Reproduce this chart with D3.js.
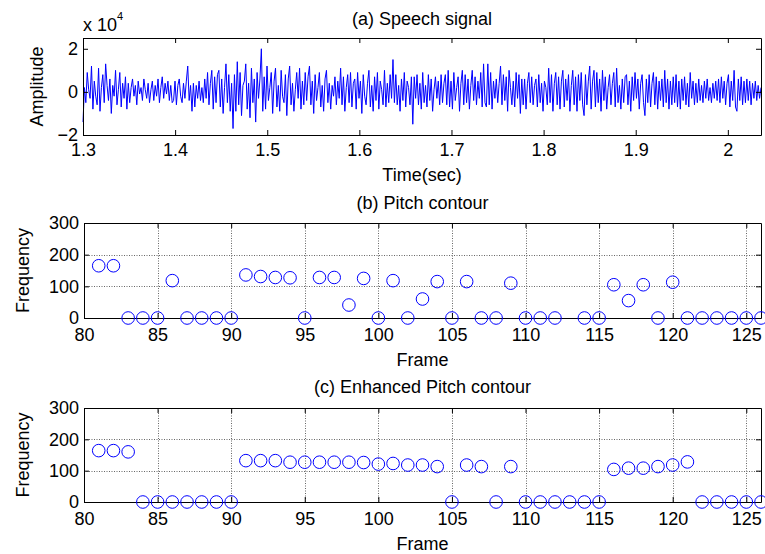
<!DOCTYPE html>
<html>
<head>
<meta charset="utf-8">
<script src="https://cdn.jsdelivr.net/npm/d3@7"></script>
<style>
body { margin: 0; background: #fff; }
svg { display: block; font-family: "Liberation Sans", Arial, sans-serif; }
</style>
</head>
<body>
<svg width="765" height="554"></svg>
<script>
// speech amplitude, in units of 10^4
const speechAmp = [
  -1.4, 0.2, -0.5, 0.9, 0.1, -0.3, 1.2, -0.8, 0.5, -0.2, -0.6, 1.1, -0.9, 0.2, 0.8, -0.5, 1.3, 0.3, -0.4, 0.6, -1.0, 0.3, -0.2, 1.0, -0.6, 0.1, 0.9, -0.7, 0.4, -0.3, 0.7, -0.8,
  0.4, -0.5, 0.2, 0.6, -0.2, 0.3, -0.6, 0.5, -0.1, 0.2, -0.4, 0.6, 0.1, -0.3, 0.4, -0.5, 0.1, 0.5, -0.4, 0.3, -0.2, 0.6, -0.5, 0.2, 0.7, -0.3, 0.4, -0.1, 0.5, -0.4, 0.3, -0.5,
  -0.4, 0.5, -0.6, 0.3, 0.6, -0.2, -0.5, 0.4, -0.3, 0.5, 1.2, -0.4, 0.3, -0.9, 0.4, -0.7, 0.3, -0.3, 0.5, -0.4, 0.2, -0.5, 0.6, -0.3, 0.9, -0.6, 0.4, 1.0, -0.8, 0.7, -0.5, 0.8,
  1.0, -0.7, 0.6, -1.0, 0.2, 1.3, -0.5, 0.8, -0.9, 0.4, -1.7, 0.8, -0.9, 1.4, -0.6, 0.9, -1.1, 0.3, 0.5, 1.3, -0.8, 0.4, -1.2, 1.1, -0.5, 0.6, -1.4, 0.9, -0.3, 0.6, 2.0, -0.9,
  0.7, -0.8, 1.2, -0.4, 0.2, 0.9, -1.0, 0.5, 1.1, -0.7, 0.3, -0.9, 1.0, -0.2, -0.5, 0.8, -1.1, 0.6, 1.2, -0.6, 0.4, -0.9, 0.1, 0.9, -0.3, 1.1, -0.8, 0.5, -0.6, 0.9, -0.4, 0.7,
  1.2, -0.6, 0.5, -1.0, 0.8, -0.4, 0.2, 0.9, -0.7, 0.3, -0.9, 0.6, 1.0, -0.5, 0.4, -0.8, 0.3, -0.2, 0.7, -0.6, 0.5, -0.3, 1.1, -0.6, 0.7, -0.9, 0.2, 0.8, -0.5, 0.9, -0.7, 0.4,
  0.6, -0.8, 0.9, -0.3, 0.5, -1.0, 0.8, -0.2, -0.6, 0.4, 1.0, -0.7, 0.3, -0.9, 0.7, -0.4, 0.9, -0.8, 0.5, 0.1, -0.6, 1.0, -0.7, 0.4, -0.5, 0.8, -0.3, 1.5, -0.5, 0.8, -0.6, 0.3,
  -0.9, 0.6, -0.4, 0.9, -0.7, 0.5, 0.2, -0.6, 0.7, -1.5, 0.7, -0.3, 0.8, -0.6, 0.4, -0.8, 0.9, -0.5, 0.3, -0.7, 0.8, -0.4, 0.6, -0.9, 0.1, 0.7, -0.3, 0.5, -0.6, 0.8, -0.5, 0.4,
  0.8, -0.6, 1.0, -0.7, 0.5, -0.8, 0.9, -0.4, 0.2, 0.7, -0.9, 0.4, 1.0, -0.6, 0.8, -0.5, 0.6, -0.8, 0.3, 1.0, -0.4, 0.7, -0.6, 0.5, -0.3, 0.9, -0.7, 1.3, -0.5, -0.7, 1.3, -0.6,
  0.9, -0.8, 0.5, -0.3, 0.6, -0.5, 0.4, 1.2, -0.6, 0.8, -0.4, 0.7, -0.9, 1.0, 0.2, -0.6, 0.5, -0.7, 0.9, -0.3, 0.8, -1.0, 0.6, -0.6, 0.6, -0.8, 0.4, 0.9, -0.5, 0.7, -0.6, 0.3,
  0.6, -0.7, 0.8, -0.5, 0.4, -0.9, 0.5, 0.2, -0.6, 1.1, -0.5, 0.8, -0.9, 0.4, 0.9, -0.6, 0.7, -0.8, 0.5, 1.0, -0.7, 0.6, -0.4, 0.8, -0.9, 0.3, 1.0, -0.6, 0.7, -0.9, 0.8, -0.4,
  0.9, -0.6, -1.1, 0.8, -0.6, 0.5, 1.2, -0.8, 0.5, 1.0, -0.7, 0.9, -0.5, 0.6, -0.9, 1.0, -0.4, 0.7, -0.8, 0.2, 0.8, -0.6, 0.4, 0.9, -0.7, 1.1, -0.5, 0.3, -0.8, 0.6, -0.5, 0.7,
  0.8, -0.6, 0.5, -0.9, 0.7, -0.4, 0.9, -0.3, 0.6, -0.8, 0.4, 0.8, -0.5, -1.1, 0.6, -0.5, 0.8, -0.7, 0.4, 0.9, -0.6, 0.7, -0.8, 0.5, -0.4, 0.6, -0.7, 1.0, -0.5, 0.6, -0.8, 0.5,
  -0.6, 0.7, -0.5, 0.8, -0.7, 0.5, -0.8, 0.6, -0.4, 0.7, -0.6, 0.4, -0.7, 0.9, -0.3, 0.5, -0.6, 0.4, -0.5, 0.6, -0.4, 0.3, -0.5, 0.5, -0.3, 0.6, -0.4, 0.2, -0.5, 0.4, -0.3, 0.5,
  -0.4, 0.6, -0.5, 0.7, -0.3, 0.5, -0.6, 0.4, 0.8, -0.7, 0.5, -0.4, 1.0, -0.7, -0.9, 0.6, -0.4, 0.7, -0.6, 0.5, -0.5, 0.6, -0.4, 0.5, -0.6, 0.4, -0.3, 0.5, -0.4, 0.3, -0.3, 0.2
];
const speechTimeRange = [1.3, 2.036];
const timeTicks = [1.3, 1.4, 1.5, 1.6, 1.7, 1.8, 1.9, 2.0];
const ampTicks = [-2, 0, 2];

const frames = [81, 82, 83, 84, 85, 86, 87, 88, 89, 90, 91, 92, 93, 94, 95, 96, 97, 98, 99, 100,
  101, 102, 103, 104, 105, 106, 107, 108, 109, 110, 111, 112, 113, 114, 115, 116, 117, 118, 119, 120,
  121, 122, 123, 124, 125, 126];
// null = no point drawn
const pitchContour = [165, 165, 0, 0, 0, 118, 0, 0, 0, 0, 136, 131, 128, 127, 0, 128, 128, 41, 125, 0,
  118, 0, 60, 115, 0, 115, 0, 0, 110, 0, 0, 0, null, 0, 0, 105, 55, 105, 0, 113,
  0, 0, 0, 0, 0, 0];
const enhancedPitch = [164, 164, 160, 0, 0, 0, 0, 0, 0, 0, 132, 132, 132, 127, 127, 127, 127, 127, 126, 121,
  123, 118, 118, 113, 0, 118, 113, 0, 113, 0, 0, 0, 0, 0, 0, 104, 108, 108, 113, 118,
  128, 0, 0, 0, 0, 0];
const frameTicks = [80, 85, 90, 95, 100, 105, 110, 115, 120, 125];
const freqTicks = [0, 100, 200, 300];

const svg = d3.select('svg');
const blue = '#0000ff';
const fontSize = 18;

function frameAxes(x, y, xTicks, yTicks, opts) {
    const g = svg.append('g');
    const [x0, x1] = x.range();
    const [y1, y0] = y.range();

    if (opts.grid) {
        g.append('g').selectAll('line').data(xTicks.filter(t => t > x.domain()[0]))
            .enter().append('line')
            .attr('x1', t => Math.round(x(t)) + 0.5).attr('x2', t => Math.round(x(t)) + 0.5)
            .attr('y1', y0).attr('y2', y1)
            .attr('stroke', '#666').attr('stroke-dasharray', '1,1.5');
        g.append('g').selectAll('line').data(yTicks.filter(t => t > y.domain()[0] && t < y.domain()[1]))
            .enter().append('line')
            .attr('x1', x0).attr('x2', x1)
            .attr('y1', t => Math.round(y(t)) + 0.5).attr('y2', t => Math.round(y(t)) + 0.5)
            .attr('stroke', '#666').attr('stroke-dasharray', '1,1.5');
    }

    const style = a => a.selectAll('text').attr('font-size', fontSize).attr('font-family', '"Liberation Sans", Arial, sans-serif').attr('fill', '#000');

    g.append('g').attr('transform', `translate(0,${y1})`)
        .call(d3.axisBottom(x).tickValues(xTicks).tickFormat(opts.xFormat || d3.format('d'))
            .tickSizeInner(-5).tickSizeOuter(0).tickPadding(opts.xPad))
        .call(style);
    g.append('g').attr('transform', `translate(0,${y0})`)
        .call(d3.axisTop(x).tickValues(xTicks).tickFormat('').tickSizeInner(-5).tickSizeOuter(0));
    g.append('g').attr('transform', `translate(${x0},0)`)
        .call(d3.axisLeft(y).tickValues(yTicks).tickFormat(opts.yFormat || d3.format('d'))
            .tickSizeInner(-5).tickSizeOuter(0).tickPadding(5))
        .call(style);
    g.append('g').attr('transform', `translate(${x1},0)`)
        .call(d3.axisRight(y).tickValues(yTicks).tickFormat('').tickSizeInner(-5).tickSizeOuter(0));
    g.selectAll('.tick line').attr('stroke', '#000');
    g.selectAll('.domain').attr('stroke', '#000');
    return g;
}

function labels(x, y, title, titleY, xLabel, xLabelY, yLabel, yLabelX) {
    const cx = (x.range()[0] + x.range()[1]) / 2;
    const cy = (y.range()[0] + y.range()[1]) / 2;
    svg.append('text').attr('x', cx).attr('y', titleY).attr('text-anchor', 'middle')
        .attr('font-size', fontSize).text(title);
    svg.append('text').attr('x', cx).attr('y', xLabelY).attr('text-anchor', 'middle')
        .attr('font-size', fontSize).text(xLabel);
    svg.append('text').attr('transform', `translate(${yLabelX},${cy}) rotate(-90)`)
        .attr('text-anchor', 'middle').attr('font-size', fontSize).text(yLabel);
}

// (a) speech signal
const xa = d3.scaleLinear().domain(speechTimeRange).range([83, 761]);
const ya = d3.scaleLinear().domain([-2, 2.5]).range([135, 38]);
const step = (speechTimeRange[1] - speechTimeRange[0]) / (speechAmp.length - 1);
svg.append('path').datum(speechAmp)
    .attr('fill', 'none').attr('stroke', blue).attr('stroke-width', 1)
    .attr('d', d3.line().x((d, i) => xa(speechTimeRange[0] + i * step)).y(d => ya(d)));
frameAxes(xa, ya, timeTicks, ampTicks, {grid: false, xPad: 8, xFormat: d3.format('~g'), yFormat: d3.format('d')});
labels(xa, ya, '(a) Speech signal', 25, 'Time(sec)', 181, 'Amplitude', 43);
const mult = svg.append('text').attr('x', 83).attr('y', 31).attr('font-size', fontSize);
mult.append('tspan').text('x 10');
mult.append('tspan').attr('font-size', 11).attr('dy', -11).text('4');

// (b) pitch contour, (c) enhanced pitch contour
function pitchPanel(values, top, bottom, title, titleY, xLabelY) {
    const x = d3.scaleLinear().domain([80, 126]).range([84, 761]);
    const y = d3.scaleLinear().domain([0, 300]).range([bottom, top]);
    frameAxes(x, y, frameTicks, freqTicks, {grid: true, xPad: 10});
    const pts = frames.map((f, i) => ({f: f, v: values[i]})).filter(d => d.v !== null);
    svg.append('g').selectAll('circle').data(pts)
        .enter().append('circle')
        .attr('cx', d => x(d.f)).attr('cy', d => y(d.v)).attr('r', 6.3)
        .attr('fill', 'none').attr('stroke', blue).attr('stroke-width', 1);
    labels(x, y, title, titleY, 'Frame', xLabelY, 'Frequency', 29);
}

pitchPanel(pitchContour, 223, 318, '(b) Pitch contour', 209, 366);
pitchPanel(enhancedPitch, 408, 502, '(c) Enhanced Pitch contour', 393, 550);
</script>
</body>
</html>
